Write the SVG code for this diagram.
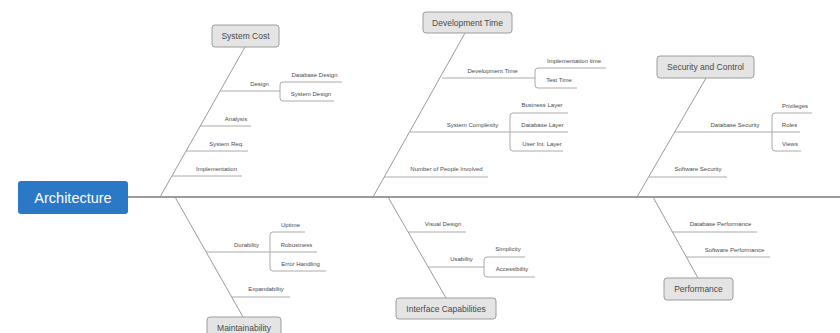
<svg xmlns="http://www.w3.org/2000/svg" width="840" height="333" viewBox="0 0 840 333">
  <style>
    .spine { stroke: #7a7a7a; stroke-width: 1.3; fill: none; }
    .bone { stroke: #9a9a9a; stroke-width: 1; fill: none; }
    .sub { stroke: #a0a0a0; stroke-width: 0.9; fill: none; }
    .cat rect { fill: #e4e4e4; stroke: #9c9c9c; stroke-width: 1; }
    .cat text { font-family: "Liberation Sans", Arial, sans-serif; font-size: 8.5px; fill: #4a4a4a; text-anchor: middle; dominant-baseline: central; }
    .lbl { font-family: "Liberation Sans", Arial, sans-serif; font-size: 6px; fill: #4a4a4a; text-anchor: middle; dominant-baseline: central; }
  </style>
  <rect width="840" height="333" fill="#ffffff"/>

  <!-- spine and main bones -->
  <g id="connectors">
    <path class="spine" d="M128,197 H840"/>
    <path class="bone" d="M245,47 L160,197"/>
    <path class="bone" d="M465,33 L373,197"/>
    <path class="bone" d="M706,78 L637,197"/>
    <path class="bone" d="M175,197 L243,317"/>
    <path class="bone" d="M388,197 L446,298"/>
    <path class="bone" d="M653,197 L698,278"/>
  </g>

  <!-- head -->
  <g id="architecture">
    <rect x="18" y="181" width="110" height="33" rx="3" fill="#2a78c6"/>
    <text x="73" y="197.5" font-family="Liberation Sans, Arial, sans-serif" font-size="14.5" fill="#ffffff" text-anchor="middle" dominant-baseline="central">Architecture</text>
  </g>

  <!-- System Cost -->
  <g id="system-cost">
    <g class="cat">
      <rect x="212" y="25" width="67" height="22" rx="3"/>
      <text x="245.5" y="36">System Cost</text>
    </g>
    <path class="sub" d="M221,91 H280"/>
    <path class="sub" d="M342,82 H283 Q280,82 280,85 V98 Q280,101 283,101 H334"/>
    <text class="lbl" x="259.5" y="84">Design</text>
    <text class="lbl" x="314.5" y="74.5">Database Design</text>
    <text class="lbl" x="311" y="94">System Design</text>
    <path class="sub" d="M200,126 H251"/>
    <text class="lbl" x="236" y="119">Analysis</text>
    <path class="sub" d="M186,151 H248"/>
    <text class="lbl" x="226.5" y="144">System Req.</text>
    <path class="sub" d="M172,176 H242"/>
    <text class="lbl" x="216.5" y="169">Implementation</text>
  </g>

  <!-- Development Time -->
  <g id="development-time">
    <g class="cat">
      <rect x="423" y="12" width="89" height="21" rx="3"/>
      <text x="467.5" y="22.5">Development Time</text>
    </g>
    <path class="sub" d="M442,78 H535"/>
    <path class="sub" d="M606,68 H538 Q535,68 535,71 V85 Q535,88 538,88 H577"/>
    <text class="lbl" x="492.5" y="71">Development Time</text>
    <text class="lbl" x="574" y="61">Implementation time</text>
    <text class="lbl" x="559" y="80">Test Time</text>
    <path class="sub" d="M410,132 H568"/>
    <path class="sub" d="M568,113 H513 Q510,113 510,116 V148 Q510,151 513,151 H563"/>
    <text class="lbl" x="472.5" y="125">System Complexity</text>
    <text class="lbl" x="542" y="105">Business Layer</text>
    <text class="lbl" x="542.5" y="125">Database Layer</text>
    <text class="lbl" x="542" y="144">User Int. Layer</text>
    <path class="sub" d="M384,177 H488"/>
    <text class="lbl" x="446.5" y="169">Number of People Involved</text>
  </g>

  <!-- Security and Control -->
  <g id="security-control">
    <g class="cat">
      <rect x="657" y="56" width="97" height="22" rx="3"/>
      <text x="705.5" y="67">Security and Control</text>
    </g>
    <path class="sub" d="M675,132 H800"/>
    <path class="sub" d="M812,113 H775 Q772,113 772,116 V148 Q772,151 775,151 H801"/>
    <text class="lbl" x="735" y="125">Database Security</text>
    <text class="lbl" x="795" y="106">Privileges</text>
    <text class="lbl" x="789.5" y="125">Roles</text>
    <text class="lbl" x="790" y="144">Views</text>
    <path class="sub" d="M649,177 H727"/>
    <text class="lbl" x="698" y="169">Software Security</text>
  </g>

  <!-- Maintainability -->
  <g id="maintainability">
    <g class="cat">
      <rect x="207" y="317" width="74" height="22" rx="3"/>
      <text x="244" y="328">Maintainability</text>
    </g>
    <path class="sub" d="M206,252 H317"/>
    <path class="sub" d="M305,232 H273 Q270,232 270,235 V268 Q270,271 273,271 H326"/>
    <text class="lbl" x="246.5" y="245">Durability</text>
    <text class="lbl" x="290.5" y="225">Uptime</text>
    <text class="lbl" x="296.5" y="245">Robustness</text>
    <text class="lbl" x="300.5" y="264">Error Handling</text>
    <path class="sub" d="M232,297 H290"/>
    <text class="lbl" x="266" y="289">Expandability</text>
  </g>

  <!-- Interface Capabilities -->
  <g id="interface-capabilities">
    <g class="cat">
      <rect x="396" y="298" width="100" height="21" rx="3"/>
      <text x="446" y="308.5">Interface Capabilities</text>
    </g>
    <path class="sub" d="M408,232 H466"/>
    <text class="lbl" x="443" y="224">Visual Design</text>
    <path class="sub" d="M428,267 H484"/>
    <path class="sub" d="M525,257 H487 Q484,257 484,260 V274 Q484,277 487,277 H535"/>
    <text class="lbl" x="461.5" y="259">Usability</text>
    <text class="lbl" x="508" y="249">Simplicity</text>
    <text class="lbl" x="512" y="269">Accessibility</text>
  </g>

  <!-- Performance -->
  <g id="performance">
    <g class="cat">
      <rect x="664" y="278" width="69" height="22" rx="3"/>
      <text x="698.5" y="289">Performance</text>
    </g>
    <path class="sub" d="M672,232 H757"/>
    <text class="lbl" x="720.5" y="224">Database Performance</text>
    <path class="sub" d="M686,257 H770"/>
    <text class="lbl" x="734.5" y="250">Software Performance</text>
  </g>
</svg>
